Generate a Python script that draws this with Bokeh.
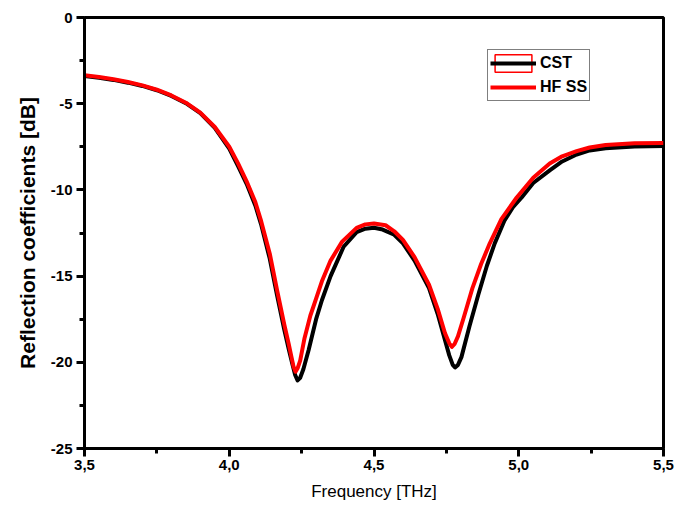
from bokeh.plotting import figure
from bokeh.models import (FixedTicker, CustomJSTickFormatter, Legend, LegendItem,
                          Range1d)
from bokeh.embed import file_html
from bokeh.resources import INLINE

# CST simulation: reflection coefficient S11 [dB] vs frequency [THz]
cst_freq = [3.50, 3.55, 3.60, 3.65, 3.70, 3.75, 3.80, 3.85, 3.90, 3.95,
            4.00, 4.03, 4.06, 4.09, 4.11, 4.14, 4.165, 4.19, 4.205, 4.218,
            4.228, 4.236, 4.245, 4.256, 4.274, 4.30, 4.32, 4.35, 4.395, 4.44,
            4.47, 4.50, 4.53, 4.57, 4.60, 4.64, 4.69, 4.72, 4.74, 4.76,
            4.772, 4.78, 4.79, 4.802, 4.83, 4.86, 4.89, 4.917, 4.95, 4.98,
            5.01, 5.05, 5.107, 5.15, 5.20, 5.245, 5.30, 5.40, 5.50]
cst_s11 = [-3.40, -3.50, -3.62, -3.78, -3.97, -4.22, -4.55, -4.97, -5.55, -6.40,
           -7.60, -8.60, -9.65, -10.9, -12.0, -14.0, -16.1, -18.1, -19.2, -20.1,
           -20.75, -21.05, -20.9, -20.4, -19.3, -17.5, -16.4, -15.0, -13.3, -12.45,
           -12.25, -12.2, -12.3, -12.6, -13.1, -14.1, -15.7, -17.2, -18.4, -19.6,
           -20.15, -20.3, -20.15, -19.7, -17.9, -16.1, -14.4, -13.1, -11.8, -11.0,
           -10.44, -9.6, -8.87, -8.35, -7.95, -7.71, -7.58, -7.48, -7.45]

# HFSS simulation
hfss_freq = [3.50, 3.55, 3.60, 3.65, 3.70, 3.75, 3.80, 3.85, 3.90, 3.95,
             4.00, 4.03, 4.06, 4.09, 4.11, 4.14, 4.165, 4.19, 4.205, 4.215,
             4.222, 4.229, 4.236, 4.245, 4.26, 4.28, 4.30, 4.32, 4.35, 4.39,
             4.44, 4.47, 4.50, 4.54, 4.57, 4.60, 4.64, 4.69, 4.72, 4.745,
             4.76, 4.769, 4.778, 4.79, 4.81, 4.84, 4.87, 4.90, 4.94, 4.993,
             5.05, 5.107, 5.15, 5.20, 5.245, 5.30, 5.40, 5.50]
hfss_s11 = [-3.35, -3.45, -3.58, -3.74, -3.94, -4.19, -4.52, -4.94, -5.52, -6.35,
            -7.50, -8.45, -9.50, -10.7, -11.8, -13.7, -15.8, -17.8, -18.9, -19.7,
            -20.25, -20.55, -20.35, -19.9, -18.6, -17.3, -16.3, -15.3, -14.1, -13.0,
            -12.2, -12.0, -11.95, -12.05, -12.4, -12.9, -13.9, -15.5, -16.9, -18.3,
            -18.9, -19.1, -18.95, -18.5, -17.4, -15.7, -14.3, -13.1, -11.7, -10.44,
            -9.30, -8.47, -8.05, -7.75, -7.54, -7.40, -7.30, -7.28]

x_ticks = [3.5, 4.0, 4.5, 5.0, 5.5]
x_minor = [3.75, 4.25, 4.75, 5.25]
y_ticks = [0, -5, -10, -15, -20, -25]
y_minor = [-2.5, -7.5, -12.5, -17.5, -22.5]

FONT = "Liberation Sans"

p = figure(width=688, height=514, output_backend="svg", toolbar_location=None,
           x_range=Range1d(3.5, 5.5), y_range=Range1d(-25, 0),
           min_border_left=84, min_border_right=25,
           min_border_top=17, min_border_bottom=66)
p.grid.visible = False
p.background_fill_color = "white"
p.border_fill_color = "white"
p.outline_line_color = "black"
p.outline_line_width = 3

cst = p.line(cst_freq, cst_s11, line_color="black", line_width=4,
             line_join="round")
hfss = p.line(hfss_freq, hfss_s11, line_color="#ff0000", line_width=4,
              line_join="round")
# outline box drawn behind the CST legend swatch (its one quad lies off-range)
box = p.quad(left=[9.0], right=[9.1], top=[9.1], bottom=[9.0], fill_alpha=0,
             line_color="#ff0000", line_width=1.5)

for ax in (p.xaxis[0], p.yaxis[0]):
    ax.axis_line_width = 3
    ax.major_tick_line_width = 3
    ax.minor_tick_line_width = 3
    ax.major_tick_in = 0
    ax.major_tick_out = 8
    ax.minor_tick_in = 0
    ax.minor_tick_out = 5
    ax.major_label_text_font = FONT
    ax.major_label_text_font_style = "bold"
    ax.major_label_text_font_size = "15px"
    ax.major_label_text_color = "black"
    ax.axis_label_text_font = FONT
    ax.axis_label_text_color = "black"

p.xaxis.ticker = FixedTicker(ticks=x_ticks, minor_ticks=x_minor)
p.yaxis.ticker = FixedTicker(ticks=y_ticks, minor_ticks=y_minor)
p.xaxis.formatter = CustomJSTickFormatter(
    code="return tick.toFixed(1).replace('.', ',');")
p.yaxis.formatter = CustomJSTickFormatter(code="return tick.toFixed(0);")

p.xaxis.axis_label = "Frequency [THz]"
p.xaxis.axis_label_text_font_size = "17px"
p.xaxis.axis_label_text_font_style = "normal"
p.xaxis.major_label_standoff = 3
p.xaxis.axis_label_standoff = 9

p.yaxis.axis_label = "Reflection coefficients [dB]"
p.yaxis.axis_label_text_font_size = "21px"
p.yaxis.axis_label_text_font_style = "bold"
p.yaxis.major_label_standoff = 4
p.yaxis.axis_label_standoff = 9

legend = Legend(items=[LegendItem(label="CST", renderers=[box, cst]),
                       LegendItem(label="HF SS", renderers=[hfss])],
                location=(403, 347))
legend.label_text_font = FONT
legend.label_text_font_style = "bold"
legend.label_text_font_size = "16px"
legend.label_text_color = "black"
legend.glyph_width = 46
legend.glyph_height = 22
legend.label_standoff = 4
legend.padding = 2
legend.spacing = 2
legend.margin = 0
legend.border_line_color = "black"
legend.border_line_width = 1.5
legend.background_fill_alpha = 1
p.add_layout(legend)

open("out.html", "w").write(file_html(p, INLINE))
